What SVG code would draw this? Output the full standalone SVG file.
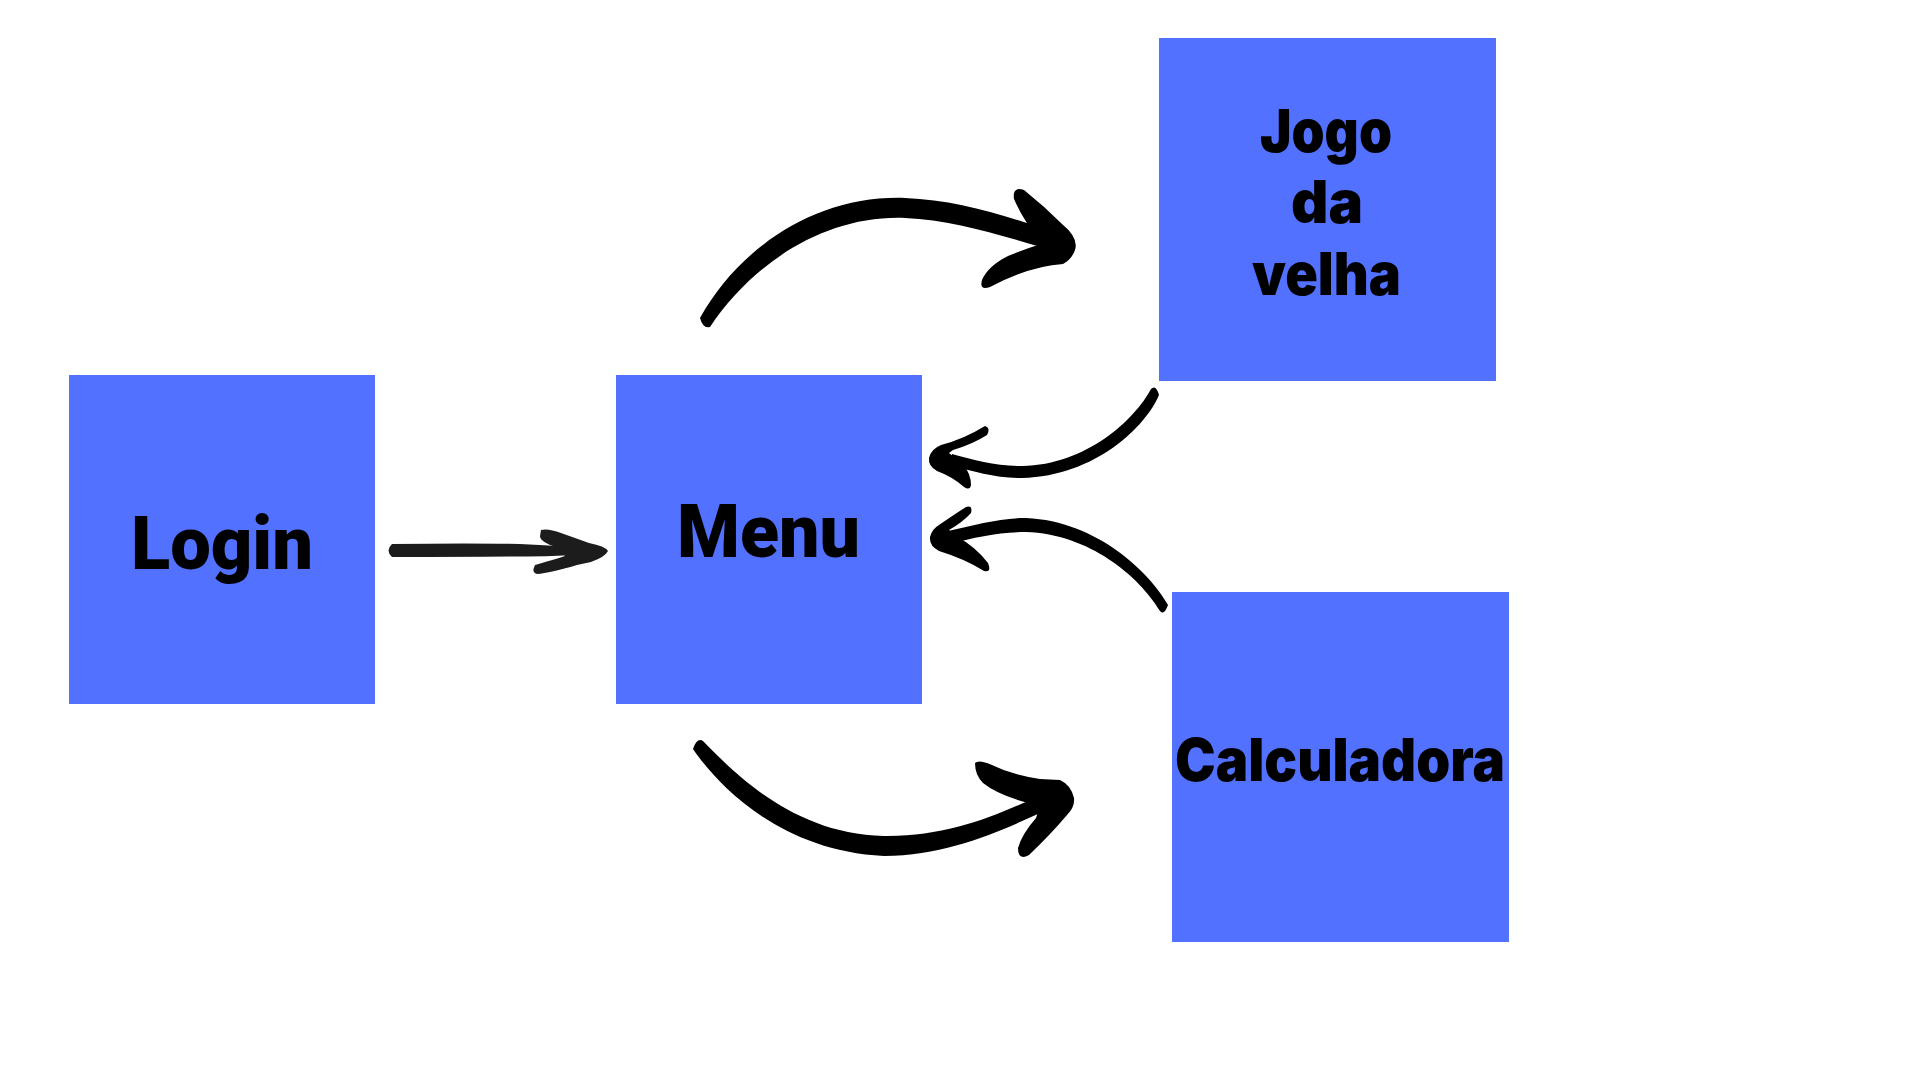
<svg xmlns="http://www.w3.org/2000/svg" width="1920" height="1080" viewBox="0 0 1920 1080">
<style>
.box{fill:#5271FF}
.t1{font-family:Roboto,"Liberation Sans",sans-serif;font-weight:900;font-size:74px;fill:#000}
.t2{font-family:Inter,"Noto Sans",sans-serif;font-weight:900;font-size:59px;fill:#000}
.arr{fill:#000}
.arr1{fill:#1c1c1c}
</style>
<rect width="1920" height="1080" fill="#fff"/>
<g id="login">
<rect class="box" x="69" y="375" width="306" height="329"/>
<text class="t1" x="131" y="569" textLength="182" lengthAdjust="spacingAndGlyphs">Login</text>
</g>
<g id="menu">
<rect class="box" x="616" y="375" width="306" height="329"/>
<text class="t1" x="677" y="557" textLength="183" lengthAdjust="spacingAndGlyphs">Menu</text>
</g>
<g id="jogo">
<rect class="box" x="1159" y="38" width="337" height="343"/>
<text class="t2" x="1260" y="152" textLength="132" lengthAdjust="spacingAndGlyphs">Jogo</text>
<text class="t2" x="1291" y="223" textLength="72" lengthAdjust="spacingAndGlyphs">da</text>
<text class="t2" x="1252" y="295" textLength="149" lengthAdjust="spacingAndGlyphs">velha</text>
</g>
<g id="calculadora">
<rect class="box" x="1172" y="592" width="337" height="350"/>
<text class="t2" x="1175" y="781" textLength="330" lengthAdjust="spacingAndGlyphs">Calculadora</text>
</g>
<g id="connectors">
<g id="login-menu" class="arr1">
<path d="M392,544 Q470,543 520,544 Q560,546 590,548 L600,552 Q560,557 520,556.5 Q470,557 392,557 Q385,550.5 392,544 Z"/>
<path d="M541,530 Q548,528 561,533 L589,543 Q605,546 608,551 Q605,557 591,562 L577,565 Q550,573 537,574 Q531,573 535,565 Q545,562 559,558 L565,556 L561,551 L556,547 Q540,542 540,536 Z"/>
</g>
<g id="menu-jogo" class="arr">
<path d="M700,318 C740,246 818,195 905,198 C961,200 1012,218 1066,236 L1068,255 C1008,238 958,220 905,218 C824,215 752,264 710,327 Q703,329 700,318 Z"/>
<path d="M1014,199 Q1012,186 1024,190 Q1044,206 1062,224 Q1079,238 1075,250 Q1072,259 1063,264 Q1030,266 990,287 Q979,291 982,280 Q988,266 1008,256 Q1025,249 1038,245 L1040,240 Q1024,222 1014,199 Z"/>
</g>
<g id="jogo-menu" class="arr">
<path d="M1159,395 C1146,426 1096,476 1022,478 C995,478 975,472 950,465 L952,454 C975,460 995,466 1022,466 C1087,465 1135,419 1151,389 Q1156,384 1159,395 Z"/>
<path d="M985,426 Q991,428 987,435 Q973,444 953,450 L949,453 L963,464 Q971,474 971,485 Q970,491 964,487 Q953,477 937,471 Q928,466 929,458 Q931,449 941,445 Q964,439 985,426 Z"/>
</g>
<g id="calc-menu" class="arr">
<path d="M1168,605 C1151,574 1098,521 1026,518 C1000,518 975,525 948,531 L950,544 C975,537 1000,532 1026,532 C1089,534 1139,576 1160,611 Q1164,616 1168,605 Z"/>
<path d="M966,507 Q973,505 971,513 Q963,522 949,530 L956,536 Q976,547 988,563 Q992,573 984,571 Q965,559 939,551 Q929,546 930,537 Q932,529 939,525 Q955,514 966,507 Z"/>
</g>
<g id="menu-calc" class="arr">
<path d="M693,749 C710,774 772,851 884,856 C950,855 1000,831 1047,810 L1043,794 C998,815 948,837 884,836 C790,834 730,768 703,741 Q697,737 693,749 Z"/>
<path d="M975,763 Q979,759 992,765 Q1012,775 1040,779 L1060,780 Q1071,785 1074,798 Q1075,807 1067,815 Q1051,834 1029,855 Q1018,861 1018,848 Q1022,834 1036,818 L1038,812 L1028,803 Q998,795 983,783 Q975,775 975,763 Z"/>
</g>
</g>
</svg>
